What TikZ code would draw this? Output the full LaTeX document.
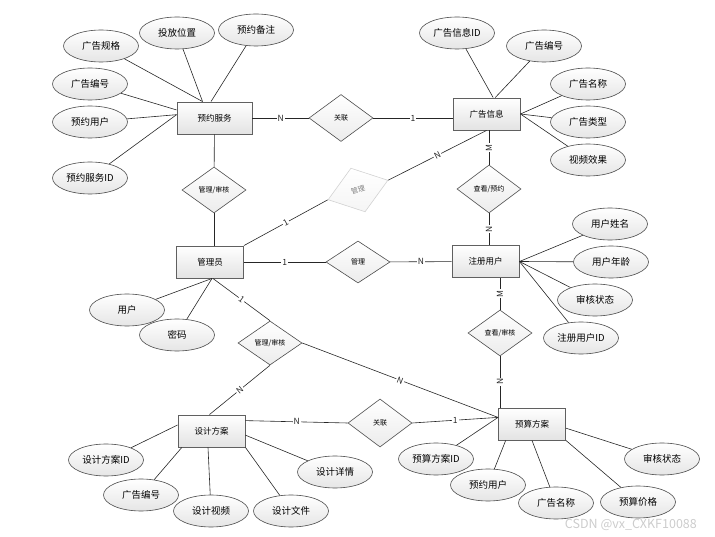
\documentclass[tikz,border=0pt]{standalone}
\usepackage{fontspec}
\newfontfamily\cjk{Noto Sans CJK SC}
\usetikzlibrary{shapes.geometric,calc}
\tikzstyle{entity}=[rectangle,draw=gray!75!black,line width=0.9pt,top color=white,bottom color=gray!22,minimum width=67pt,minimum height=32pt,inner sep=0pt,font=\cjk\fontsize{8.5}{10}\selectfont]
\tikzstyle{attr}=[ellipse,draw=gray!60!black,line width=0.6pt,top color=white,bottom color=gray!20,minimum width=75pt,minimum height=32pt,inner sep=0pt,font=\cjk\fontsize{9.5}{10}\selectfont]
\tikzstyle{relation}=[diamond,draw=gray!60!black,line width=0.6pt,top color=white,bottom color=gray!15,minimum width=64pt,minimum height=46pt,inner sep=0pt,font=\cjk\fontsize{7}{8}\selectfont]
\tikzstyle{link}=[draw,gray!30!black,line width=0.6pt]
\tikzstyle{card}=[fill=white,inner sep=1pt,font=\cjk\fontsize{8.5}{9}\selectfont]

\begin{document}
\begin{tikzpicture}[x=1pt,y=-1pt]
	\useasboundingbox (0,0) rectangle (715,537);

	% Draw the entities
	\node[entity,minimum width=75pt] (yyfw) at (214.5,118) {预约服务};
	\foreach \pos/\name/\txt in {{(486.5,114)/ggxx/广告信息}, {(210,262)/gly/管理员},
								{(485.5,261.5)/zcyh/注册用户}, {(211.5,431)/sjfa/设计方案}, {(532,424)/ysfa/预算方案}}
	\node[entity] (\name) at \pos {\txt};

	% Draw the relations
	\foreach \pos/\name/\txt/\h in {{(341,118)/gl1/关联/47}, {(214,190)/gs1/{管理/审核}/46}, {(358,262)/glr/管理/42},
								{(489,189)/ck1/{查看/预约}/48}, {(500,333)/ck2/{查看/审核}/46},
								{(270,343)/gs2/{管理/审核}/44}, {(380,423)/gl2/关联/48}}
	\node[relation,minimum height=\h pt] (\name) at \pos {\txt};
	\node[relation,rotate=18,draw=gray!35,bottom color=gray!8,text=gray,minimum width=63pt] (glf) at (358,190) {管理};

	% Draw the attributes
	\foreach \pos/\name/\txt in {{(101,46)/ggge/广告规格}, {(177,33)/tfwz/投放位置}, {(256,30)/yybz/预约备注},
								{(90,84)/ggbh1/广告编号}, {(90,122)/yyyh1/预约用户}, {(90,178)/yyid/预约服务ID},
								{(457,33)/ggid/广告信息ID}, {(544,46)/ggbh2/广告编号}, {(588,84)/ggmc1/广告名称},
								{(588,122)/gglx/广告类型}, {(588,160)/spxg/视频效果},
								{(127,310)/yh/用户}, {(177,335)/mm/密码},
								{(610,224)/yhxm/用户姓名}, {(611,262)/yhnl/用户年龄}, {(595,300)/shzt1/审核状态}, {(581,338)/zcid/注册用户ID},
								{(106,460)/sjid/设计方案ID}, {(141,495)/ggbh3/广告编号}, {(211,511)/sjsp/设计视频},
								{(291,511)/sjwj/设计文件}, {(335,472)/sjxq/设计详情},
								{(436,459)/ysid/预算方案ID}, {(488,485)/yyyh2/预约用户}, {(556,503)/ggmc2/广告名称},
								{(638,502)/ysjg/预算价格}, {(662,459)/shzt2/审核状态}}
	\node[attr] (\name) at \pos {\txt};

	% Connect attributes with their entities
	\foreach \source/ \dest in {ggge/yyfw.126, tfwz/yyfw.126, yybz/yyfw.102, ggbh1/yyfw.168, yyyh1/yyfw.175, yyid/yyfw.175,
								ggid/ggxx.68, ggbh2/ggxx.62, ggmc1/ggxx.east, gglx/ggxx.east, spxg/ggxx.east,
								yh/gly.277, mm/gly.277,
								yhxm/zcyh.east, yhnl/zcyh.east, shzt1/zcyh.east, zcid/zcyh.east,
								sjid/sjfa.170, ggbh3/sjfa.209, sjsp/sjfa.258, sjwj/sjfa.south east, sjxq/sjfa.353,
								ysid/ysfa.169, yyyh2/ysfa.212, ggmc2/ysfa.south, ysjg/ysfa.south east, shzt2/ysfa.353}
	\path[link] (\source) -- (\dest);

	% Connect entities with relations and draw cardinalities
	\path[link] (yyfw) -- node[card] {N} (gl1);
	\path[link] (gl1.east) -- node[card] {1} (gl1.east -| ggxx.west);
	\path[link] (yyfw) -- (gs1);
	\path[link] (gs1.south) -- (gs1.south |- gly.north);
	\path[link] (gly) -- node[card] {1} (glr);
	\path[link] (glr) -- node[card] {N} (zcyh);
	\path[link] (gly.north east) -- node[card,sloped] {1} (glf.west);
	\path[link] (glf.east) -- node[card,sloped] {N} (ggxx.south);
	\path[link] (ck1.north) -- node[card,rotate=90] {M} (ck1.north |- ggxx.south);
	\path[link] (ck1.south) -- node[card,rotate=90] {N} (ck1.south |- zcyh.north);
	\path[link] (ck2.north) -- node[card,rotate=90] {M} (ck2.north |- zcyh.south);
	\path[link] (ck2.south) -- node[card,rotate=90] {N} (ck2.south |- ysfa.north);
	\path[link] (gly.280) -- node[card,sloped] {1} (gs2.north);
	\path[link] (gs2.south) -- node[card,sloped] {N} (sjfa.97);
	\path[link] (gs2.east) -- node[card,sloped] {N} (ysfa.169);
	\path[link] (sjfa.17) -- node[card] {N} (gl2.west);
	\path[link] (gl2.east) -- node[card] {1} (ysfa.169);

	\node[font=\cjk\fontsize{12.5}{13}\selectfont,text=gray!40,anchor=south east,inner sep=0pt] (wm) at (697,531) {CSDN @vx\_CXKF10088};
\end{tikzpicture}
\end{document}
